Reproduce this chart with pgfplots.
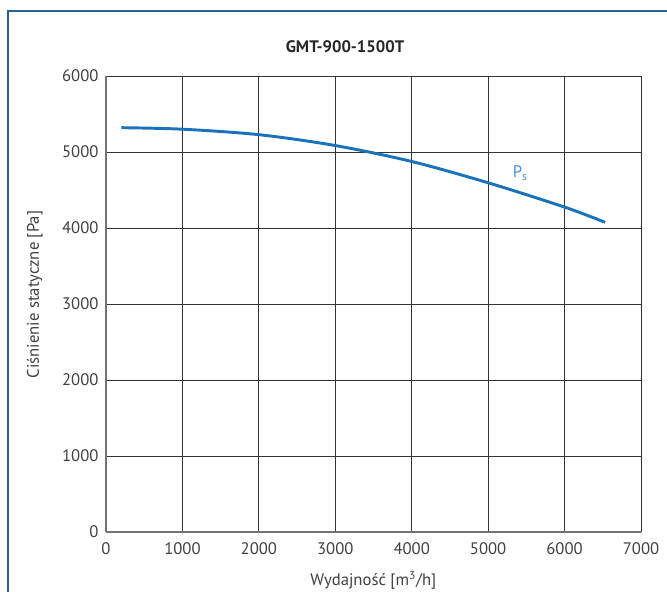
\documentclass[border=0pt]{standalone}
\usepackage{fontspec}
\setmainfont{PT Sans}
\usepackage{pgfplots}
\pgfplotsset{compat=1.18}
\definecolor{frameblue}{HTML}{2E5F8C}
\definecolor{curveblue}{HTML}{1A72BA}
\definecolor{labelblue}{HTML}{4A90CF}
\definecolor{gridc}{HTML}{333333}
\begin{document}
\begin{tikzpicture}
\useasboundingbox (0,0) rectangle (500.25pt,444pt);
\draw[frameblue, line width=1.4pt] (6pt,-20pt) -- (6pt,435.75pt) -- (520pt,435.75pt);
\node[font=\bfseries\fontsize{12.5}{14}\selectfont, text=black!85] at (258.75pt,408.75pt) {GMT-900-1500T};
\node[font=\fontsize{12.5}{14}\selectfont, text=black!75] at (280pt,9pt) {Wydajność [m\textsuperscript{3}/h]};
\node[font=\fontsize{12.5}{14}\selectfont, text=black!75, rotate=90] at (26pt,223pt) {Ciśnienie statyczne [Pa]};
\begin{axis}[
  at={(79.5pt,45pt)}, anchor=origin,
  scale only axis, width=401.25pt, height=342pt,
  xmin=0, xmax=7000, ymin=0, ymax=6000,
  xtick={0,1000,...,7000}, ytick={0,1000,...,6000},
  grid=major, major grid style={gridc, line width=0.7pt},
  axis line style={black!55, line width=0.8pt},
  axis x line=bottom, axis y line=left,
  x axis line style={-}, y axis line style={-},
  tick style={draw=none},
  /pgf/number format/assume math mode=true,
  /pgf/number format/1000 sep={},
  tick label style={font=\fontsize{12.5}{14}\selectfont, text=black!75},
  xticklabel style={yshift=-2pt},
  clip=false,
]
\addplot[curveblue, line width=2.2pt, smooth] coordinates {
(200,5320) (1000,5300) (2000,5228) (3000,5085) (4000,4875) (5000,4595) (6000,4275) (6530,4075)
};
\node[text=labelblue, font=\fontsize{12.5}{14}\selectfont, anchor=center] at (axis cs:5420,4720) {P\textsubscript{s}};
\end{axis}
\end{tikzpicture}
\end{document}
